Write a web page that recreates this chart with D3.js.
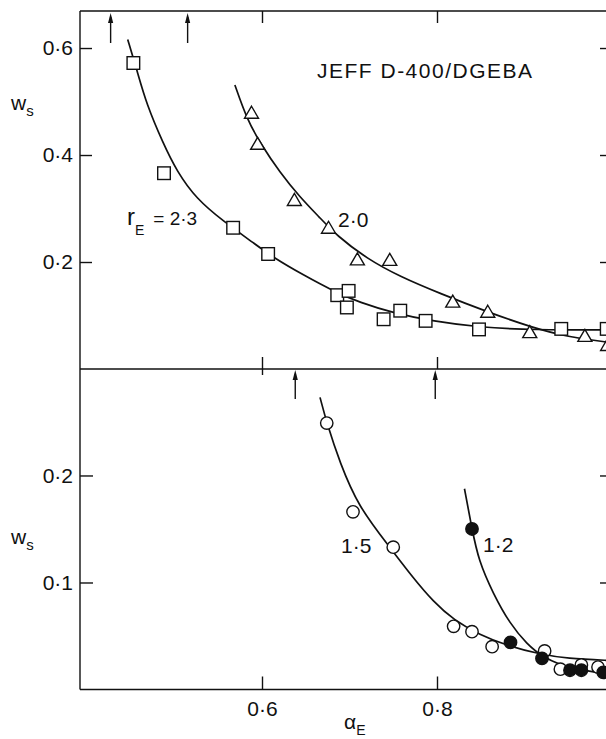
<!DOCTYPE html>
<html>
<head>
<meta charset="utf-8">
<script src="https://cdn.jsdelivr.net/npm/d3@7"></script>
<style>
  body { margin: 0; background: #fff; }
  svg { display: block; }
  text { font-family: "Liberation Sans", Arial, sans-serif; fill: #111; }
</style>
</head>
<body>
<svg id="chart" width="606" height="739"></svg>
<script>
// ---- data: degree of conversion alpha_E vs sol fraction w_s ----
const xTickValues = [0.6, 0.8];
const upperYTicks = [0.2, 0.4, 0.6];
const lowerYTicks = [0.1, 0.2];

// gel-point arrows (alpha_E) for each panel
const upperArrows = [0.427, 0.515];
const lowerArrows = [0.638, 0.798];

// r_E = 2.3 (open squares)
const r23Points = [[0.453,0.572],[0.488,0.366],[0.567,0.264],[0.607,0.215],[0.686,0.138],[0.699,0.146],[0.697,0.115],[0.739,0.093],[0.758,0.109],[0.787,0.090],[0.848,0.074],[0.942,0.075],[0.994,0.075]];
const r23Curve = [[0.4465,0.616],[0.457,0.559],[0.468,0.495],[0.487,0.422],[0.5025,0.370],[0.525,0.318],[0.556,0.276],[0.590,0.236],[0.615,0.206],[0.647,0.176],[0.681,0.146],[0.712,0.124],[0.750,0.105],[0.796,0.089],[0.848,0.078],[0.910,0.073],[1.0,0.073]];

// r_E = 2.0 (open triangles)
const r20Points = [[0.588,0.479],[0.595,0.421],[0.637,0.316],[0.676,0.264],[0.709,0.205],[0.746,0.204],[0.818,0.126],[0.858,0.107],[0.906,0.069],[0.969,0.062],[0.995,0.045]];
const r20Curve = [[0.569,0.531],[0.5825,0.468],[0.598,0.422],[0.6206,0.367],[0.643,0.322],[0.666,0.283],[0.685,0.250],[0.720,0.206],[0.758,0.1725],[0.803,0.1415],[0.857,0.107],[0.910,0.077],[0.948,0.0604],[1.0,0.049]];

// r_E = 1.5 (open circles)
const r15Points = [[0.674,0.249],[0.704,0.166],[0.750,0.133],[0.819,0.059],[0.840,0.054],[0.863,0.040],[0.923,0.036],[0.941,0.019],[0.965,0.023],[0.984,0.021]];
const r15Curve = [[0.6663,0.273],[0.674,0.249],[0.689,0.212],[0.710,0.171],[0.746,0.133],[0.773,0.104],[0.796,0.082],[0.819,0.065],[0.849,0.051],[0.880,0.041],[0.918,0.033],[0.948,0.029],[1.0,0.027]];

// r_E = 1.2 (filled circles)
const r12Points = [[0.840,0.150],[0.884,0.044],[0.920,0.029],[0.952,0.018],[0.965,0.018],[0.990,0.016]];
const r12Curve = [[0.8314,0.1876],[0.840,0.150],[0.8475,0.1206],[0.8643,0.0894],[0.8834,0.0614],[0.9025,0.0427],[0.9215,0.0297],[0.952,0.0193],[1.0,0.014]];

// ---- layout ----
const left = 80, right = 612;
const upperTop = 11, divider = 369, bottom = 689.5;
const ink = "#111";

const svg = d3.select("#chart");

const x = d3.scaleLinear().domain([0.392, 1.0]).range([left, right]);
const yUp = d3.scaleLinear().domain([0, 0.6692]).range([divider, upperTop]);
const yLo = d3.scaleLinear().domain([0, 0.2995]).range([bottom, divider]);

const fmt = d => d3.format(".1f")(d).replace(".", "\u00B7");

// frame lines
const frame = svg.append("g").attr("stroke", ink).attr("stroke-width", 1.4).attr("fill", "none");
frame.append("line").attr("x1", left).attr("x2", 606).attr("y1", upperTop).attr("y2", upperTop);
frame.append("line").attr("x1", left).attr("x2", 606).attr("y1", divider).attr("y2", divider);
frame.append("line").attr("x1", left).attr("x2", 606).attr("y1", bottom).attr("y2", bottom);
frame.append("line").attr("x1", left).attr("x2", left).attr("y1", upperTop).attr("y2", bottom);
frame.append("line").attr("x1", right).attr("x2", right).attr("y1", upperTop).attr("y2", bottom);

function styleAxis(g) {
  g.select(".domain").remove();
  g.selectAll(".tick line").attr("stroke", ink).attr("stroke-width", 1.4);
  g.selectAll(".tick text").attr("fill", ink).style("font-size", "21px")
    .style("font-family", "'Liberation Sans', Arial, sans-serif");
}

// left axes (inward ticks)
svg.append("g").attr("transform", `translate(${left},0)`)
  .call(d3.axisLeft(yUp).tickValues(upperYTicks).tickSize(-12).tickPadding(7).tickFormat(fmt))
  .call(styleAxis);
svg.append("g").attr("transform", `translate(${left},0)`)
  .call(d3.axisLeft(yLo).tickValues(lowerYTicks).tickSize(-13).tickPadding(7).tickFormat(fmt))
  .call(styleAxis);

// right axes (inward ticks, no labels)
svg.append("g").attr("transform", `translate(${right},0)`)
  .call(d3.axisRight(yUp).tickValues(upperYTicks).tickSize(-12).tickFormat(""))
  .call(styleAxis);
svg.append("g").attr("transform", `translate(${right},0)`)
  .call(d3.axisRight(yLo).tickValues(lowerYTicks).tickSize(-12).tickFormat(""))
  .call(styleAxis);

// bottom axis
svg.append("g").attr("transform", `translate(0,${bottom})`)
  .call(d3.axisBottom(x).tickValues(xTickValues).tickSize(-13).tickPadding(12).tickFormat(fmt))
  .call(styleAxis);

// top of upper panel: short downward ticks
svg.append("g").attr("transform", `translate(0,${upperTop})`)
  .call(d3.axisTop(x).tickValues(xTickValues).tickSize(-12).tickFormat(""))
  .call(styleAxis);
// bottom of upper panel: upward ticks
svg.append("g").attr("transform", `translate(0,${divider})`)
  .call(d3.axisBottom(x).tickValues(xTickValues).tickSize(-12).tickFormat(""))
  .call(styleAxis);
// top of lower panel: short downward tick
svg.append("g").attr("transform", `translate(0,${divider})`)
  .call(d3.axisTop(x).tickValues([0.6]).tickSize(-6).tickFormat(""))
  .call(styleAxis);

// gel-point arrows
function arrow(ax, yTip, yBase) {
  const px = x(ax);
  svg.append("line").attr("x1", px).attr("x2", px).attr("y1", yTip + 4).attr("y2", yBase)
    .attr("stroke", ink).attr("stroke-width", 1.4);
  svg.append("path")
    .attr("d", `M${px},${yTip} L${px - 2.6},${yTip + 10} L${px + 2.6},${yTip + 10} Z`)
    .attr("fill", ink);
}
upperArrows.forEach(a => arrow(a, upperTop + 2, upperTop + 32));
lowerArrows.forEach(a => arrow(a, divider + 1, divider + 30));

// fitted curves
const line = (ys) => d3.line().x(d => x(d[0])).y(d => ys(d[1])).curve(d3.curveBasis);
const curves = svg.append("g").attr("fill", "none").attr("stroke", ink).attr("stroke-width", 1.7);
curves.append("path").attr("d", line(yUp)(r23Curve));
curves.append("path").attr("d", line(yUp)(r20Curve));
curves.append("path").attr("d", line(yLo)(r15Curve));
curves.append("path").attr("d", line(yLo)(r12Curve));

// markers
const marks = svg.append("g").attr("stroke", ink).attr("stroke-width", 1.4);
marks.selectAll("rect.sq").data(r23Points).join("rect").attr("class", "sq")
  .attr("x", d => x(d[0]) - 6.3).attr("y", d => yUp(d[1]) - 6.3)
  .attr("width", 12.6).attr("height", 12.6).attr("fill", "#fff");
marks.selectAll("path.tri").data(r20Points).join("path").attr("class", "tri")
  .attr("d", d => {
    const cx = x(d[0]), cy = yUp(d[1]);
    return `M${cx},${cy - 6.5} L${cx + 7},${cy + 5.5} L${cx - 7},${cy + 5.5} Z`;
  })
  .attr("fill", "#fff");
marks.selectAll("circle.open").data(r15Points).join("circle").attr("class", "open")
  .attr("cx", d => x(d[0])).attr("cy", d => yLo(d[1])).attr("r", 6.2).attr("fill", "#fff");
marks.selectAll("circle.filled").data(r12Points).join("circle").attr("class", "filled")
  .attr("cx", d => x(d[0])).attr("cy", d => yLo(d[1])).attr("r", 6.2).attr("fill", ink);

// text labels
svg.append("text").attr("x", 317).attr("y", 78)
  .attr("textLength", 215).attr("lengthAdjust", "spacing")
  .style("font-size", "21px").text("JEFF D-400/DGEBA");

function subLabel(xp, yp, main, sub, mainSize, subSize, dy) {
  const t = svg.append("text").attr("x", xp).attr("y", yp);
  t.append("tspan").style("font-size", mainSize + "px").text(main);
  t.append("tspan").attr("dy", dy).style("font-size", subSize + "px").text(sub);
  return t;
}
subLabel(11, 110, "w", "s", 21, 15, 6);
subLabel(11, 544, "w", "s", 21, 15, 6);
subLabel(344, 729, "\u03B1", "E", 21, 14, 6);

const rLabel = svg.append("text").attr("x", 127).attr("y", 225);
rLabel.append("tspan").style("font-size", "24px").text("r");
rLabel.append("tspan").attr("dy", 10).style("font-size", "14px").text("E");
rLabel.append("tspan").attr("dy", -10).attr("dx", 9).style("font-size", "19px").text("= 2\u00B73");

svg.append("text").attr("x", 338).attr("y", 227).style("font-size", "21px").text("2\u00B70");
svg.append("text").attr("x", 341).attr("y", 553).style("font-size", "21px").text("1\u00B75");
svg.append("text").attr("x", 483).attr("y", 552).style("font-size", "21px").text("1\u00B72");
</script>
</body>
</html>
